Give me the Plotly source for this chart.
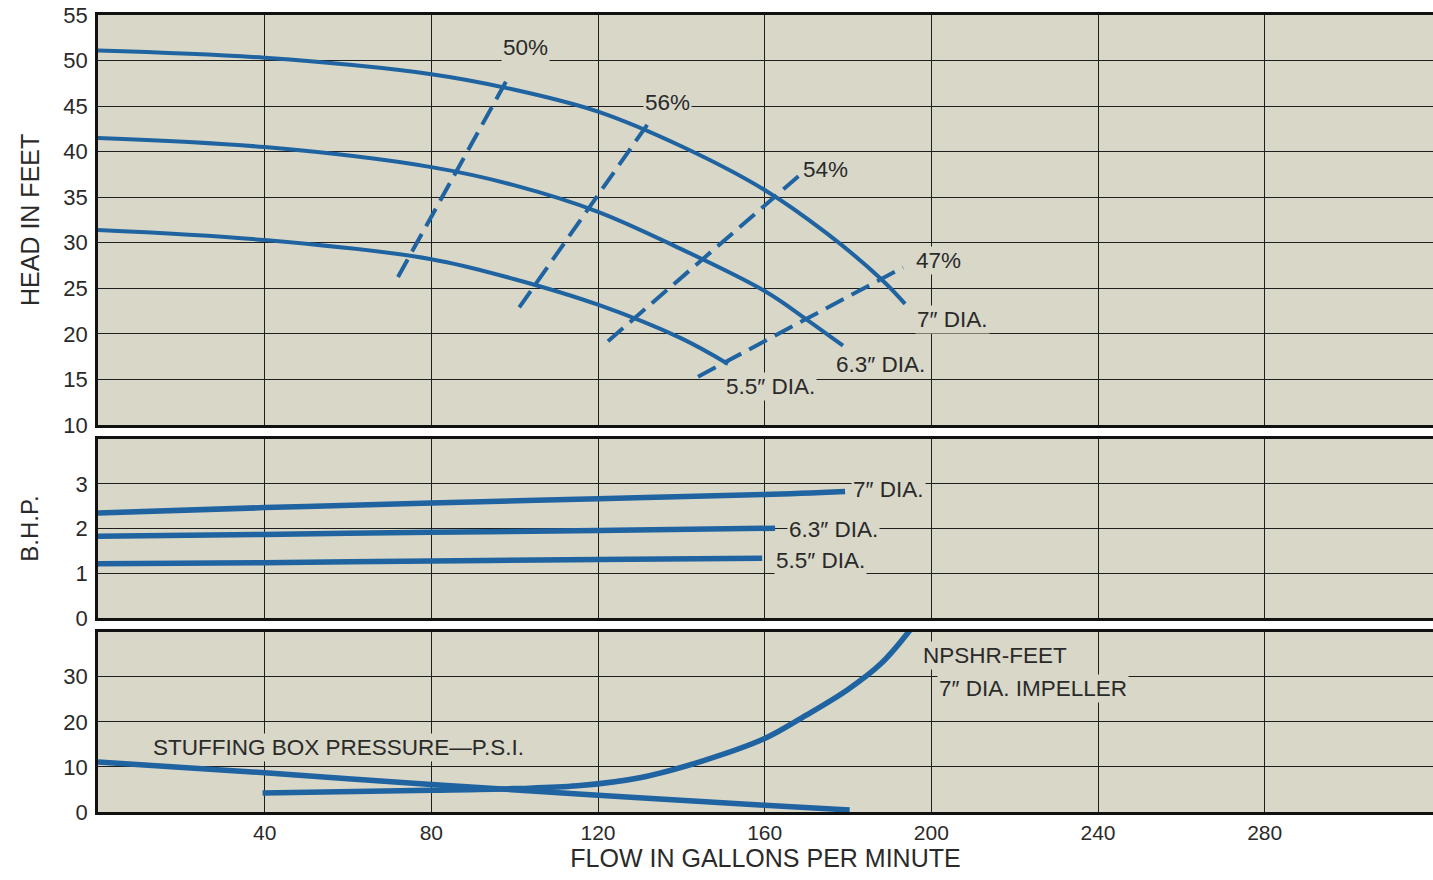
import plotly.graph_objects as go

BLUE = "#1f63a1"
BG = "#d8d7c8"
GRID = "#1e1e1e"
TXT = "#2a2a2a"
FONT = "Liberation Sans, Arial, Helvetica, sans-serif"

# ---------------- data ----------------
flow_ticks = [40, 80, 120, 160, 200, 240, 280]
head_ticks = [10, 15, 20, 25, 30, 35, 40, 45, 50, 55]
bhp_ticks = [0, 1, 2, 3]
low_ticks = [0, 10, 20, 30]

# head-capacity curves
head7_x = [0, 40, 80, 100, 120, 140, 160, 175, 188, 193.7]
head7_y = [51.1, 50.3, 48.5, 46.8, 44.4, 40.6, 35.8, 31.0, 26.0, 23.3]
head63_x = [0, 40, 80, 100, 120, 140, 160, 170, 178.8]
head63_y = [41.5, 40.5, 38.3, 36.3, 33.4, 29.3, 24.7, 21.6, 18.7]
head55_x = [0, 40, 80, 100, 120, 140, 151.2]
head55_y = [31.4, 30.3, 28.2, 26.0, 23.2, 19.5, 16.7]

# efficiency lines
eff50_x = [72.0, 98.9]
eff50_y = [26.25, 48.5]
eff56_x = [101.1, 132.5]
eff56_y = [22.9, 43.4]
eff54_x = [122.4, 168.1]
eff54_y = [19.2, 37.3]
eff47_x = [144.0, 193.2]
eff47_y = [15.3, 27.3]

# brake horsepower
bhp7_x = [0, 40, 80, 120, 160, 179.3]
bhp7_y = [2.35, 2.47, 2.57, 2.67, 2.76, 2.83]
bhp63_x = [0, 40, 80, 120, 162.5]
bhp63_y = [1.83, 1.87, 1.92, 1.96, 2.01]
bhp55_x = [0, 40, 80, 120, 159.4]
bhp55_y = [1.22, 1.24, 1.28, 1.31, 1.34]

# stuffing box pressure (psi) and NPSHR (feet)
sbp_x = [0, 40, 80, 120, 160, 180.4]
sbp_y = [11.1, 8.7, 6.1, 3.7, 1.5, 0.45]
npsh_x = [39.5, 80, 100, 115, 130, 145, 160, 170, 180, 188, 195]
npsh_y = [4.2, 4.8, 5.2, 5.8, 7.6, 11.3, 16.3, 21.5, 27.2, 33.0, 40.5]

# ---------------- figure ----------------
fig = go.Figure()

def line(x, y, xa, ya, width=4, dash=None, shape="spline"):
    fig.add_trace(go.Scatter(
        x=x, y=y, xaxis=xa, yaxis=ya, mode="lines",
        line=dict(color=BLUE, width=width, dash=dash, shape=shape, smoothing=1.0),
        showlegend=False, hoverinfo="skip"))

for hx, hy in [(head7_x, head7_y), (head63_x, head63_y), (head55_x, head55_y)]:
    line(hx, hy, "x", "y", width=4)
for ex, ey in [(eff50_x, eff50_y), (eff56_x, eff56_y), (eff54_x, eff54_y), (eff47_x, eff47_y)]:
    line(ex, ey, "x", "y", width=4, dash="20px,9px", shape="linear")
for bx, by in [(bhp7_x, bhp7_y), (bhp63_x, bhp63_y), (bhp55_x, bhp55_y)]:
    line(bx, by, "x2", "y2", width=5.5)
line(sbp_x, sbp_y, "x3", "y3", width=5.5)
line(npsh_x, npsh_y, "x3", "y3", width=5.5)

XR = [0, 320.4]
common_x = dict(range=XR, tickvals=flow_ticks, showgrid=True, gridcolor=GRID, gridwidth=1.4,
                zeroline=False, showline=True, mirror=True, linecolor="#111111", linewidth=2.5,
                ticks="", tickfont=dict(size=21, color=TXT, family=FONT))
common_y = dict(showgrid=True, gridcolor=GRID, gridwidth=1.4, zeroline=False, showline=True,
                linecolor="#111111", linewidth=2.5, ticks="", ticklabelstandoff=3,
                tickfont=dict(size=22, color=TXT, family=FONT))

fig.update_layout(
    width=1433, height=880, autosize=False,
    margin=dict(l=98, r=0, t=15, b=68),
    paper_bgcolor="white", plot_bgcolor=BG,
    font=dict(family=FONT, color=TXT),
    xaxis=dict(common_x, anchor="y", showticklabels=False),
    xaxis2=dict(common_x, anchor="y2", matches="x", showticklabels=False),
    xaxis3=dict(common_x, anchor="y3", matches="x", showticklabels=True,
                title=dict(text="FLOW IN GALLONS PER MINUTE", font=dict(size=25, color=TXT, family=FONT),
                           standoff=5)),
    yaxis=dict(common_y, domain=[0.4856, 1.0], range=[10, 55], tickvals=head_ticks, anchor="x"),
    yaxis2=dict(common_y, domain=[0.243, 0.468], range=[0, 4], tickvals=bhp_ticks, anchor="x2"),
    yaxis3=dict(common_y, domain=[0.0, 0.2262], range=[0, 40], tickvals=low_ticks, anchor="x3"),
)

def note(text, x, y, xa, ya, size=22.5, xanchor="center", bg=BG):
    fig.add_annotation(text=text, x=x, y=y, xref=xa, yref=ya, showarrow=False,
                       xanchor=xanchor, yanchor="middle",
                       font=dict(size=size, color=TXT, family=FONT),
                       bgcolor=bg, borderpad=1)

note("50%", 102.5, 51.4, "x", "y")
note("56%", 136.6, 45.4, "x", "y")
note("54%", 174.5, 38.05, "x", "y")
note("47%", 201.6, 28.0, "x", "y")
note("7\u2033 DIA.", 205.0, 21.6, "x", "y")
note("6.3\u2033 DIA.", 187.7, 16.6, "x", "y")
note("5.5\u2033 DIA.", 161.3, 14.2, "x", "y")

note("7\u2033 DIA.", 189.6, 2.87, "x2", "y2")
note("6.3\u2033 DIA.", 176.4, 1.98, "x2", "y2")
note("5.5\u2033 DIA.", 173.3, 1.30, "x2", "y2")

note("NPSHR-FEET", 215.3, 34.8, "x3", "y3")
note("7\u2033 DIA. IMPELLER", 224.4, 27.5, "x3", "y3")
note("STUFFING BOX PRESSURE\u2014P.S.I.", 57.6, 14.4, "x3", "y3")

# axis titles (vertical)
pw = 1433 - 98
fig.add_annotation(text="HEAD IN FEET", x=-(98 - 30) / pw, y=(0.4856 + 1.0) / 2, xref="paper", yref="paper",
                   showarrow=False, textangle=-90, xanchor="center", yanchor="middle",
                   font=dict(size=25, color=TXT, family=FONT))
fig.add_annotation(text="B.H.P.", x=-(98 - 30) / pw, y=(0.243 + 0.468) / 2, xref="paper", yref="paper",
                   showarrow=False, textangle=-90, xanchor="center", yanchor="middle",
                   font=dict(size=24, color=TXT, family=FONT))

fig.write_html("out.html")
